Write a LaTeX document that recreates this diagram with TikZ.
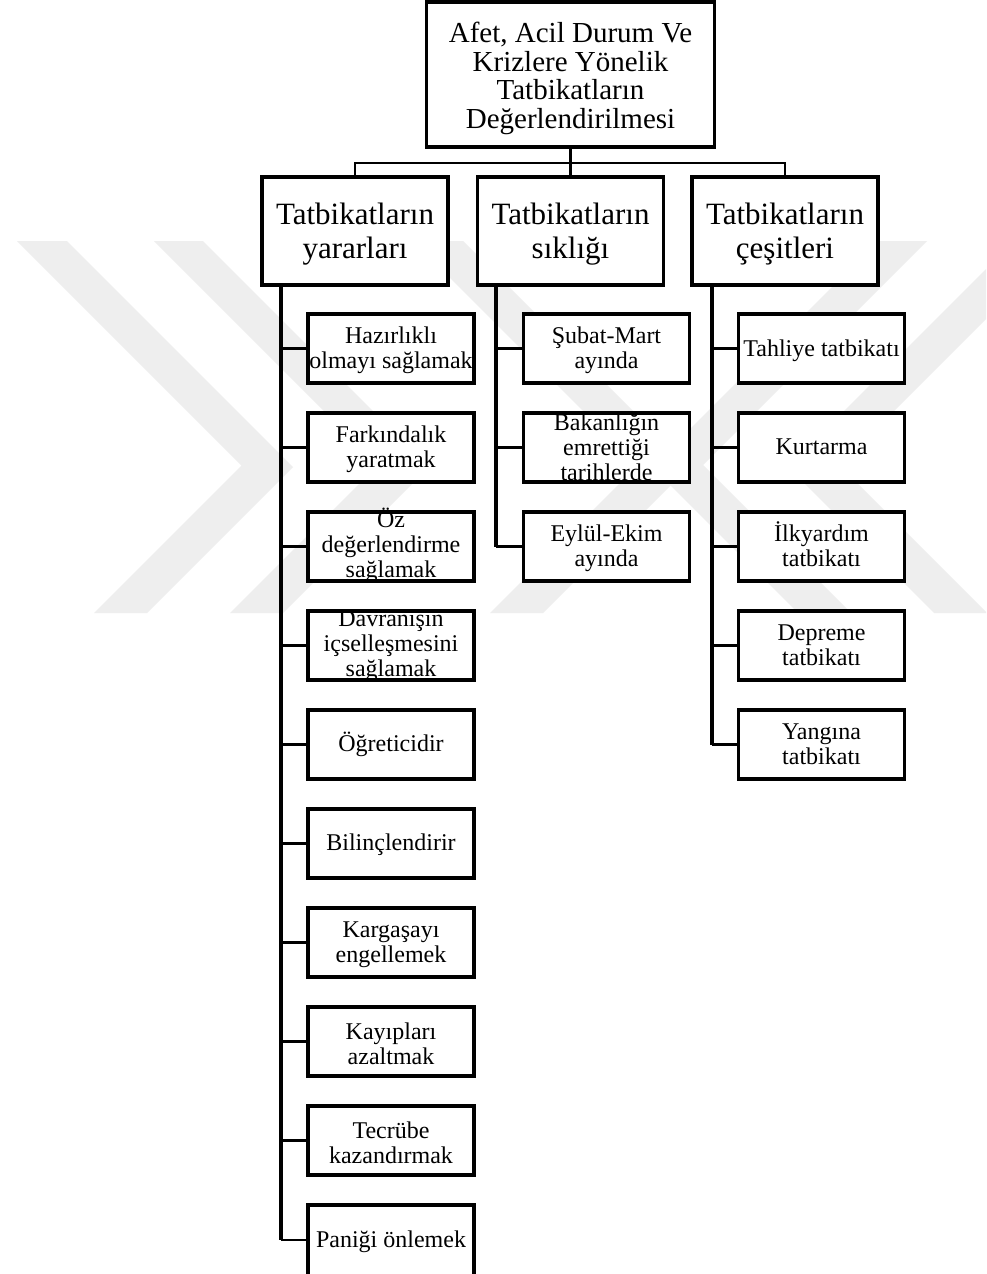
\documentclass[tikz,border=0pt]{standalone}
\usepackage{fontspec}
\setmainfont{Liberation Serif}
\definecolor{wm}{HTML}{EEEEEE}
\tikzset{
  bx/.style={draw=black, line width=3.3pt, fill=white, inner sep=0pt},
  topbox/.style={bx, minimum width=288pt, minimum height=145pt},
  midbox/.style={bx, minimum width=186pt, minimum height=108pt},
  leafbox/.style={bx, minimum width=166pt, minimum height=69pt},
  toptxt/.style={align=center, inner sep=0pt, font=\fontsize{29}{28.4}\selectfont},
  midtxt/.style={align=center, inner sep=0pt, font=\fontsize{31}{34}\selectfont},
  leaftxt/.style={align=center, inner sep=0pt, font=\fontsize{24}{25}\selectfont},
  conn/.style={line width=2.8pt},
  trunk/.style={line width=3.5pt}
}
\begin{document}
\begin{tikzpicture}[x=1pt,y=-1pt]
\clip (0,0) rectangle (986,1274);
\fill[white] (0,0) rectangle (986,1274);
% watermark
\fill[wm] (17,241) -- (67,241) -- (293,467) -- (147,613) -- (94,613) -- (241.5,465.5) -- cycle;
\fill[wm] (154,241) -- (203,241) -- (429,467) -- (283,613) -- (230,613) -- (378,465) -- cycle;
\fill[wm] (413,241) -- (463,241) -- (689,467) -- (543,613) -- (490,613) -- (637.5,465.5) -- cycle;
\fill[wm] (1064,241) -- (1014,241) -- (788,467) -- (934,613) -- (987,613) -- (839.5,465.5) -- cycle;
\fill[wm] (927,241) -- (878,241) -- (652,467) -- (798,613) -- (851,613) -- (703,465) -- cycle;

% top
\node[topbox] (top) at (570.5,74.5) {};
\node[toptxt] (topt) at (570.5,78.5) {Afet, Acil Durum Ve\\Krizlere Yönelik\\Tatbikatların\\Değerlendirilmesi};

% level 2
\node[midbox] (Y) at (355,231) {};
\node[midbox] (S) at (570.5,231) {};
\node[midbox] (C) at (785,231) {};
\node[midtxt] (Yt) at (355,234) {Tatbikatların\\yararları};
\node[midtxt] (St) at (570.5,234) {Tatbikatların\\sıklığı};
\node[midtxt] (Ct) at (785,234) {Tatbikatların\\çeşitleri};

\coordinate (hbar) at (0,163);
\draw[conn] (top.south) -- (S.north);
\draw[conn] (Y.north) -- (Y.north |- hbar) -- (C.north |- hbar) -- (C.north);

% column 1
\node[leafbox] (a1) at (391,348.5) {};
\node[leafbox] (a2) at (391,447.5) {};
\node[leafbox] (a3) at (391,546.5) {};
\node[leafbox] (a4) at (391,645.5) {};
\node[leafbox] (a5) at (391,744.5) {};
\node[leafbox] (a6) at (391,843.5) {};
\node[leafbox] (a7) at (391,942.5) {};
\node[leafbox] (a8) at (391,1041.5) {};
\node[leafbox] (a9) at (391,1140.5) {};
\node[leafbox, minimum height=75pt] (a10) at (391,1242.5) {};
\node[leaftxt] (a1t) at (391,350.5) {Hazırlıklı\\olmayı sağlamak};
\node[leaftxt] (a2t) at (391,449.5) {Farkındalık\\yaratmak};
\node[leaftxt] (a3t) at (391,545.5) {Öz\\değerlendirme\\sağlamak};
\node[leaftxt] (a4t) at (391,646) {Davranışın\\içselleşmesini\\sağlamak};
\node[leaftxt] (a5t) at (391,744.5) {Öğreticidir};
\node[leaftxt] (a6t) at (391,845) {Bilinçlendirir};
\node[leaftxt] (a7t) at (391,944.5) {Kargaşayı\\engellemek};
\node[leaftxt] (a8t) at (391,1043.5) {Kayıpları\\azaltmak};
\node[leaftxt] (a9t) at (391,1142.5) {Tecrübe\\kazandırmak};
\node[leaftxt] (a10t) at (391,1242) {Paniği önlemek};

% column 2
\node[leafbox] (b1) at (606.5,348.5) {};
\node[leafbox] (b2) at (606.5,447.5) {};
\node[leafbox] (b3) at (606.5,546.5) {};
\node[leaftxt] (b1t) at (606.5,350.5) {Şubat-Mart\\ayında};
\node[leaftxt] (b2t) at (606.5,447.5) {Bakanlığın\\emrettiği\\tarihlerde};
\node[leaftxt] (b3t) at (606.5,548.5) {Eylül-Ekim\\ayında};

% column 3
\node[leafbox] (c1) at (821.5,348.5) {};
\node[leafbox] (c2) at (821.5,447.5) {};
\node[leafbox] (c3) at (821.5,546.5) {};
\node[leafbox] (c4) at (821.5,645.5) {};
\node[leafbox] (c5) at (821.5,744.5) {};
\node[leaftxt] (c1t) at (821.5,350.5) {Tahliye tatbikatı};
\node[leaftxt] (c2t) at (821.5,447) {Kurtarma};
\node[leaftxt] (c3t) at (821.5,544.5) {İlkyardım\\tatbikatı};
\node[leaftxt] (c4t) at (821.5,645) {Depreme\\tatbikatı};
\node[leaftxt] (c5t) at (821.5,744) {Yangına\\tatbikatı};

% trunks
\coordinate (t1) at (281,285);
\coordinate (t2) at (496,285);
\coordinate (t3) at (712,285);
\coordinate (p10) at (281,1240);
\draw[trunk] (t1) -- (p10);
\draw[trunk] (t2) -- (t2 |- b3.west);
\draw[trunk] (t3) -- (t3 |- c5.west);
\foreach \n in {a1,a2,a3,a4,a5,a6,a7,a8,a9}{\draw[conn] (t1 |- \n.west) -- (\n.west);}
\draw[conn] (p10) -- (a10.west |- p10);
\foreach \n in {b1,b2,b3}{\draw[conn] (t2 |- \n.west) -- (\n.west);}
\foreach \n in {c1,c2,c3,c4,c5}{\draw[conn] (t3 |- \n.west) -- (\n.west);}
\end{tikzpicture}
\end{document}
